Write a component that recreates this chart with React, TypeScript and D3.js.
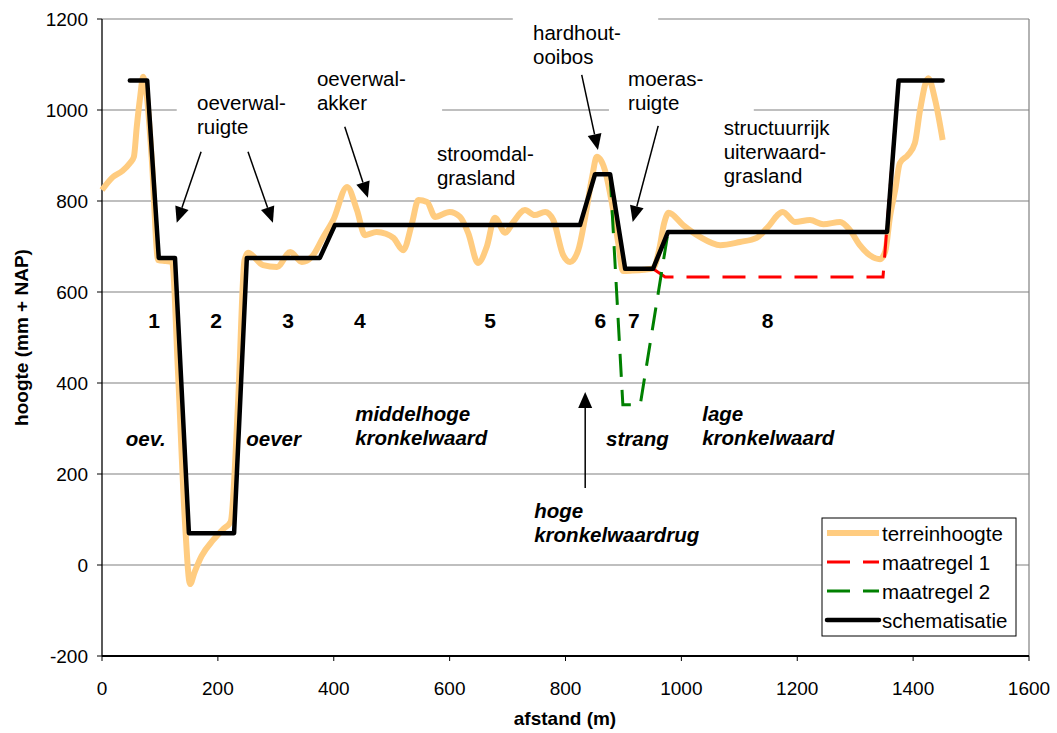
import React from 'react';
import * as d3 from 'd3';

// terreinhoogte (m, mm + NAP)
const terrainX = [0, 19, 35, 48, 55, 60, 66, 71, 78, 86, 97, 110, 121, 131, 143, 152, 160, 172, 192, 210, 222, 235, 246, 252,
  278, 302, 325, 345, 362, 382, 399, 423, 440, 454, 474, 490, 503, 520, 535, 546, 561, 575, 600, 618, 632, 649, 664, 678,
  696, 710, 730, 747, 765, 779, 796, 808, 822, 834, 846, 854, 868, 880, 891, 899, 915, 935, 951, 962, 970, 978, 1003, 1032,
  1067, 1101, 1130, 1148, 1175, 1196, 1222, 1245, 1274, 1291, 1308, 1325, 1343, 1352, 1360, 1369, 1377, 1391, 1403, 1412,
  1426, 1438, 1451];
const terrainY = [824, 853, 866, 883, 897, 963, 1030, 1073, 1024, 890, 670, 668, 666, 429, 99, -42, -15, 20, 55, 80, 95, 360, 670, 686,
  659, 655, 688, 666, 677, 721, 758, 831, 780, 725, 732, 728, 719, 692, 751, 802, 798, 765, 776, 765, 730, 664, 699, 763,
  730, 754, 780, 769, 776, 758, 681, 666, 692, 765, 853, 897, 868, 796, 708, 646, 647, 649, 652, 695, 750, 774, 747, 721,
  703, 710, 719, 741, 776, 754, 758, 749, 754, 736, 703, 681, 672, 690, 765, 824, 883, 901, 927, 1000,
  1070, 1022, 934];

// schematisatie
const schemX = [48, 78, 98, 126, 150, 228, 250, 376, 402, 825, 851, 877, 903, 951, 977, 1355, 1375, 1451];
const schemY = [1065, 1065, 675, 675, 70, 70, 675, 675, 747, 747, 859, 859, 651, 651, 732, 732, 1065, 1065];

// maatregel 1 (verlaging lage kronkelwaard)
const m1X = [951, 972, 1348, 1375];
const m1Y = [651, 633, 633, 1065];

// maatregel 2 (strang)
const m2X = [877, 899, 929, 977];
const m2Y = [859, 352, 352, 732];

const xTicks = [0, 200, 400, 600, 800, 1000, 1200, 1400, 1600];
const yTicks = [-200, 0, 200, 400, 600, 800, 1000, 1200];

const zoneLabels = ['1', '2', '3', '4', '5', '6', '7', '8'];
const zoneX = [90, 197, 321, 445, 670, 860, 918, 1149];

const W = 1057, H = 733;
const FONT = '"Liberation Sans", Arial, sans-serif';

const x = d3.scaleLinear().domain([0, 1600]).range([102, 1029]);
const y = d3.scaleLinear().domain([-200, 1200]).range([656, 19]);

const zip = (xs: number[], ys: number[]) => xs.map((v, i) => [v, ys[i]] as [number, number]);

const smooth = d3.line<[number, number]>().x(d => x(d[0])).y(d => y(d[1])).curve(d3.curveMonotoneX);
const straight = d3.line<[number, number]>().x(d => x(d[0])).y(d => y(d[1]));

// white label boxes (m / mm) that hide parts of the gridlines
const boxes = [
  [129, 356, 1055, 923],
  [350, 587, 1110, 982],
  [709, 960, 1220, 1088],
  [875, 1125, 1105, 978],
];

const plainNotes = [
  { lines: ['oeverwal-', 'ruigte'], x: 164, y: 1017 },
  { lines: ['oeverwal-', 'akker'], x: 371, y: 1070 },
  { lines: ['stroomdal-', 'grasland'], x: 578, y: 905 },
  { lines: ['hardhout-', 'ooibos'], x: 744, y: 1171 },
  { lines: ['moeras-', 'ruigte'], x: 908, y: 1070 },
  { lines: ['structuurrijk', 'uiterwaard-', 'grasland'], x: 1073, y: 963 },
];

const italicNotes = [
  { lines: ['oev.'], x: 41, y: 279 },
  { lines: ['oever'], x: 249, y: 279 },
  { lines: ['middelhoge', 'kronkelwaard'], x: 437, y: 334 },
  { lines: ['strang'], x: 870, y: 279 },
  { lines: ['lage', 'kronkelwaard'], x: 1036, y: 334 },
  { lines: ['hoge', 'kronkelwaardrug'], x: 746, y: 121 },
];

const arrows = [
  [171, 908, 129, 752],
  [252, 908, 295, 752],
  [419, 963, 459, 807],
  [828, 1077, 856, 912],
  [960, 965, 916, 754],
  [834, 169, 834, 380],
];

function Arrow({ a }: { a: number[] }) {
  const x1 = x(a[0]), y1 = y(a[1]), x2 = x(a[2]), y2 = y(a[3]);
  const ang = Math.atan2(y2 - y1, x2 - x1);
  const len = 16, hw = 7;
  const bx = x2 - len * Math.cos(ang), by = y2 - len * Math.sin(ang);
  const px = -Math.sin(ang) * hw, py = Math.cos(ang) * hw;
  return (
    <g>
      <line x1={x1} y1={y1} x2={bx} y2={by} stroke="#000" strokeWidth={1.5} />
      <polygon points={`${x2},${y2} ${bx + px},${by + py} ${bx - px},${by - py}`} fill="#000" />
    </g>
  );
}

const legendItems = [
  { label: 'terreinhoogte', stroke: '#FFCC80', width: 6, dash: undefined as string | undefined },
  { label: 'maatregel 1', stroke: '#FF0000', width: 3, dash: '23 13' },
  { label: 'maatregel 2', stroke: '#008000', width: 3, dash: '23 13' },
  { label: 'schematisatie', stroke: '#000', width: 4.5, dash: undefined },
];

export default function App() {
  const LH = 24;
  return (
    <svg width={W} height={H} style={{ position: 'absolute', left: 0, top: 0, background: '#fff' }} fontFamily={FONT}>
      {/* gridlines */}
      {yTicks.filter(t => t > -200).map(t => (
        <line key={t} x1={x(0)} x2={x(1600)} y1={y(t)} y2={y(t)} stroke="#808080" strokeWidth={1.2} />
      ))}
      <line x1={x(1600)} x2={x(1600)} y1={y(1200)} y2={y(-200)} stroke="#808080" strokeWidth={1.2} />

      {boxes.map((b, i) => (
        <rect key={i} x={x(b[0])} y={y(b[2])} width={x(b[1]) - x(b[0])} height={y(b[3]) - y(b[2])} fill="#fff" />
      ))}

      {/* axes */}
      <line x1={x(0)} x2={x(0)} y1={y(1200)} y2={y(-200)} stroke="#000" strokeWidth={1.3} />
      <line x1={x(0)} x2={x(1600)} y1={y(-200)} y2={y(-200)} stroke="#000" strokeWidth={2} />
      {yTicks.map(t => (
        <g key={t}>
          <line x1={x(0) - 5} x2={x(0)} y1={y(t)} y2={y(t)} stroke="#000" strokeWidth={1} />
          <text x={88} y={y(t)} textAnchor="end" dominantBaseline="central" fontSize={19}>{t}</text>
        </g>
      ))}
      {xTicks.map(t => (
        <g key={t}>
          <line x1={x(t)} x2={x(t)} y1={y(-200)} y2={y(-200) + 5} stroke="#000" strokeWidth={1} />
          <text x={x(t)} y={688} textAnchor="middle" dominantBaseline="central" fontSize={19}>{t}</text>
        </g>
      ))}
      <text x={565} y={718} textAnchor="middle" dominantBaseline="central" fontSize={19} fontWeight="bold">afstand (m)</text>
      <text transform={`translate(21,${(y(1200) + y(-200)) / 2}) rotate(-90)`} textAnchor="middle" dominantBaseline="central"
        fontSize={19} fontWeight="bold">hoogte (mm + NAP)</text>

      {/* series */}
      <path d={smooth(zip(terrainX, terrainY)) || ''} fill="none" stroke="#FFCC80" strokeWidth={6} strokeLinejoin="round" />
      <path d={straight(zip(m1X, m1Y)) || ''} fill="none" stroke="#FF0000" strokeWidth={3} strokeDasharray="23 13" />
      <path d={straight(zip(m2X, m2Y)) || ''} fill="none" stroke="#008000" strokeWidth={3} strokeDasharray="23 13" />
      <path d={straight(zip(schemX, schemY)) || ''} fill="none" stroke="#000" strokeWidth={4.5} strokeLinejoin="round" strokeLinecap="round" />

      {/* zone numbers */}
      {zoneLabels.map((l, i) => (
        <text key={l} x={x(zoneX[i])} y={y(537)} textAnchor="middle" dominantBaseline="central" fontSize={21} fontWeight="bold">{l}</text>
      ))}

      {plainNotes.map((n, i) => (
        <text key={i} x={x(n.x)} y={y(n.y)} dominantBaseline="central" fontSize={20.5}>
          {n.lines.map((l, j) => <tspan key={j} x={x(n.x)} dy={j === 0 ? 0 : LH}>{l}</tspan>)}
        </text>
      ))}
      {italicNotes.map((n, i) => (
        <text key={i} x={x(n.x)} y={y(n.y)} dominantBaseline="central" fontSize={20.5} fontWeight="bold" fontStyle="italic">
          {n.lines.map((l, j) => <tspan key={j} x={x(n.x)} dy={j === 0 ? 0 : LH}>{l}</tspan>)}
        </text>
      ))}

      {arrows.map((a, i) => <Arrow key={i} a={a} />)}

      {/* legend */}
      <g transform="translate(822,518)">
        <rect x={0} y={0} width={194} height={118} fill="#fff" stroke="#000" strokeWidth={1} />
        {legendItems.map((it, i) => (
          <g key={it.label} transform={`translate(0,${15 + i * 29})`}>
            <line x1={5} x2={57} y1={0} y2={0} stroke={it.stroke} strokeWidth={it.width} strokeDasharray={it.dash}
              strokeLinecap={it.label === 'schematisatie' ? 'round' : 'butt'} />
            <text x={60} y={0} dominantBaseline="central" fontSize={20.5}>{it.label}</text>
          </g>
        ))}
      </g>
    </svg>
  );
}
